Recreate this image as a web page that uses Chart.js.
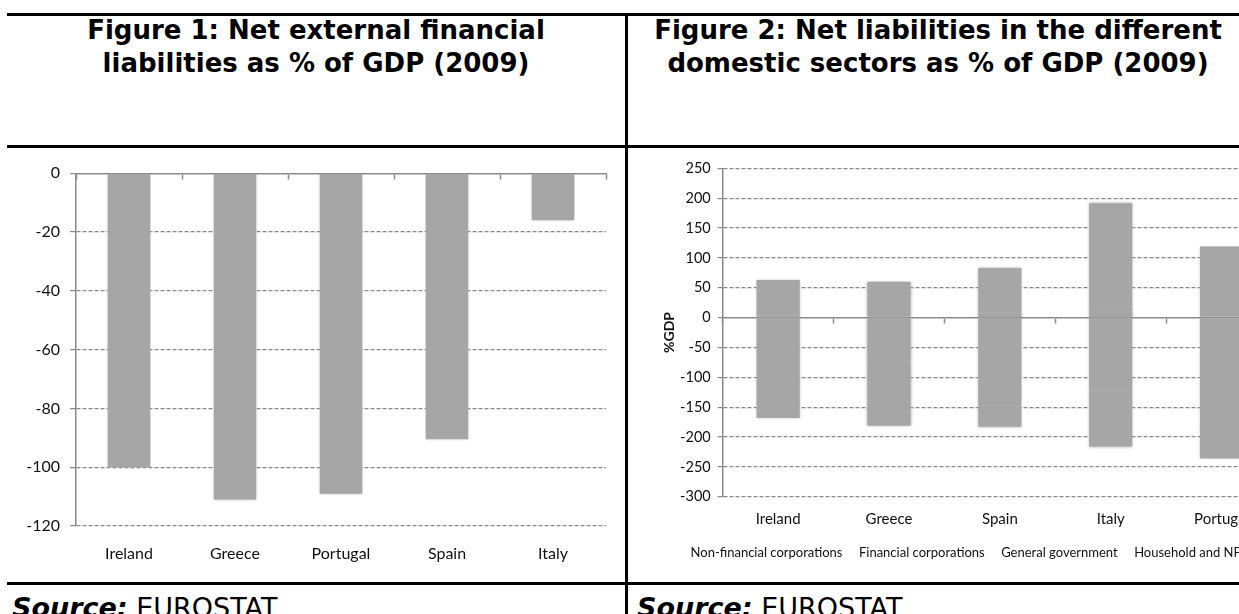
<!DOCTYPE html>
<html>
<head>
<meta charset="utf-8">
<script src="https://cdn.jsdelivr.net/npm/chart.js@4.4.0/dist/chart.umd.min.js"></script>
<style>
  html, body { margin: 0; padding: 0; background: #fff; overflow: hidden; }
  body { width: 1239px; height: 614px; position: relative; font-family: "DejaVu Sans", Verdana, sans-serif; }
  .hline { position: absolute; left: 7px; right: 0; height: 3px; background: #000; }
  .vline { position: absolute; left: 625px; width: 3px; top: 13px; bottom: 0; background: #000; }
  .title { position: absolute; top: 14px; text-align: center; font-weight: bold; font-size: 26px; line-height: 33px; color: #000; }
  .source { position: absolute; top: 592px; font-size: 27px; line-height: 32px; color: #000; white-space: nowrap; }
  .box { position: absolute; top: 150px; height: 430px; }
</style>
</head>
<body>
  <div class="hline" style="top:13px"></div>
  <div class="hline" style="top:145px"></div>
  <div class="hline" style="top:582px"></div>
  <div class="vline"></div>

  <div class="title" style="left:7px; width:618px;">Figure 1: Net external financial<br>liabilities as % of GDP (2009)</div>
  <div class="title" style="left:628px; width:620px;">Figure 2: Net liabilities in the different<br>domestic sectors as % of GDP (2009)</div>

  <div class="box" style="left:0; width:627px;"><canvas id="chart1" width="627" height="430"></canvas></div>
  <div class="box" style="left:627px; width:692px;"><canvas id="chart2" width="692" height="430"></canvas></div>

  <div class="source" style="left:12px;"><b><i>Source:</i></b> EUROSTAT</div>
  <div class="source" style="left:637px;"><b><i>Source:</i></b> EUROSTAT</div>

<script>
// Figure 1 data
const countries1 = ['Ireland', 'Greece', 'Portugal', 'Spain', 'Italy'];
const netExternal = [-100, -111, -109, -90.5, -16];
const ticks1 = { min: -120, max: 0, step: 20 };

// Figure 2 data (stacked by sector)
const countries2 = ['Ireland', 'Greece', 'Spain', 'Italy', 'Portugal'];
const nonFinancial = [-133, -74, -147, -122, -165];
const financial = [3, 2, 8, 10, 2];
const generalGov = [-35, -107, -36, -94, -71];
const households = [60, 58, 75, 181.5, 117];
const sectorNames = ['Non-financial corporations', 'Financial corporations', 'General government', 'Household and NPISH'];
const ticks2 = { min: -300, max: 250, step: 50 };

const barGrey = '#a6a6a6';
const gridGrey = '#8a8a8a';
const axisGrey = '#8a8a8a';
const labelFont = 'Lato, "Liberation Sans", sans-serif';

// soft edges on the bars, like the original (a halo of the same grey)
const softBars = {
  id: 'softBars',
  beforeDatasetsDraw(chart) {
    const ctx = chart.ctx;
    ctx.save();
    ctx.shadowColor = 'rgba(166,166,166,0.9)';
    ctx.shadowBlur = 3;
  },
  afterDatasetsDraw(chart) {
    chart.ctx.restore();
  }
};

// hide the dashed grid at zero, the solid zero axis draws it
const gridColor = ctx => (ctx.tick && ctx.tick.value === 0) ? 'rgba(0,0,0,0)' : gridGrey;

function zeroAxis() {
  return {
    type: 'category',
    position: { y: 0 },
    offset: true,
    z: 1,
    ticks: { display: false },
    grid: { offset: true, drawOnChartArea: false, tickLength: 5, tickColor: axisGrey, tickWidth: 1.5 },
    border: { display: true, color: axisGrey, width: 1.5 }
  };
}

new Chart(document.getElementById('chart1'), {
  type: 'bar',
  data: {
    labels: countries1,
    datasets: [{
      data: netExternal,
      backgroundColor: barGrey,
      borderWidth: 0,
      barPercentage: 0.4,
      categoryPercentage: 1
    }]
  },
  plugins: [softBars],
  options: {
    responsive: false,
    animation: false,
    layout: { padding: { top: 23.3, left: 0, right: 21, bottom: 0 } },
    plugins: { legend: { display: false }, tooltip: { enabled: false } },
    scales: {
      x: {
        ticks: { color: '#111', font: { family: labelFont, size: 16 }, padding: 10 },
        grid: { display: false },
        border: { display: false },
        afterFit: s => { s.height = 54; }
      },
      x2: zeroAxis(),
      y: {
        min: ticks1.min,
        max: ticks1.max,
        z: 1,
        ticks: { stepSize: ticks1.step, color: '#111', font: { family: labelFont, size: 16 }, padding: 10 },
        grid: { color: gridColor, tickLength: 6, tickColor: gridGrey, lineWidth: 1.2 },
        border: { display: true, color: axisGrey, width: 1.5, dash: [4, 2] },
        afterFit: s => { s.width = 76; }
      }
    }
  }
});

const sectorData = [nonFinancial, financial, generalGov, households];
new Chart(document.getElementById('chart2'), {
  type: 'bar',
  data: {
    labels: countries2,
    datasets: sectorNames.map((name, i) => ({
      label: name,
      data: sectorData[i],
      backgroundColor: barGrey,
      borderWidth: 0,
      barPercentage: 0.39,
      categoryPercentage: 1
    }))
  },
  plugins: [softBars],
  options: {
    responsive: false,
    animation: false,
    layout: { padding: { top: 18.3, left: 0, right: 0, bottom: 10.5 } },
    plugins: {
      tooltip: { enabled: false },
      legend: {
        position: 'bottom',
        labels: {
          boxWidth: 0,
          boxHeight: 0,
          padding: 10,
          color: '#111',
          font: { family: labelFont, size: 13 }
        }
      }
    },
    scales: {
      x: {
        stacked: true,
        ticks: { color: '#111', font: { family: labelFont, size: 15 }, padding: 5 },
        grid: { display: false },
        border: { display: false },
        afterFit: s => { s.height = 39.8; }
      },
      x2: zeroAxis(),
      y: {
        stacked: true,
        min: ticks2.min,
        max: ticks2.max,
        z: 1,
        title: { display: true, text: '%GDP', color: '#111', font: { family: labelFont, size: 14, weight: 'bold' }, padding: { top: 34, bottom: 0 } },
        ticks: { stepSize: ticks2.step, color: '#111', font: { family: labelFont, size: 14.5 }, padding: 7 },
        grid: { color: gridColor, tickLength: 5, tickColor: gridGrey, lineWidth: 1.2 },
        border: { display: true, color: axisGrey, width: 1.5, dash: [4, 2] },
        afterFit: s => { s.width = 95.7; }
      },
      // empty strip on the right so the plot ends where the original does
      yr: {
        position: 'right',
        ticks: { display: false },
        grid: { display: false },
        border: { display: false },
        afterFit: s => { s.width = 42; }
      }
    }
  }
});
</script>
</body>
</html>
